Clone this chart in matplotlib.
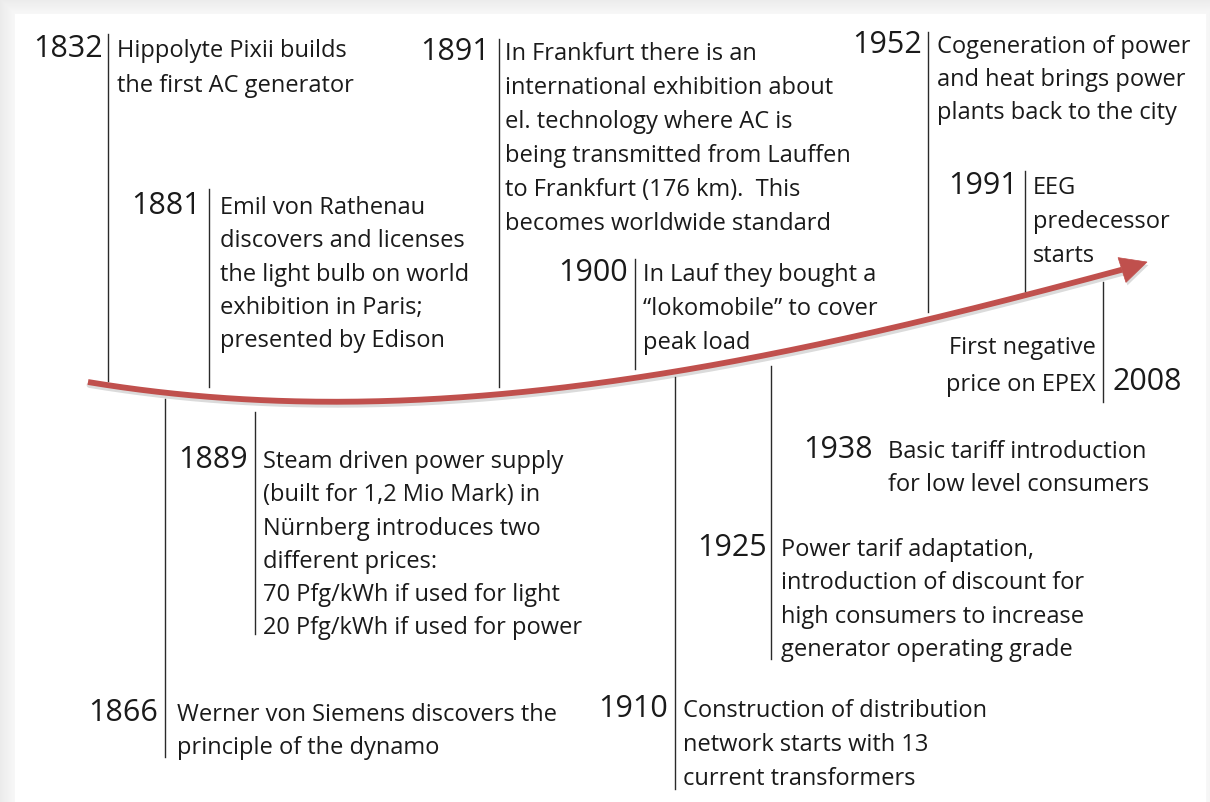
import numpy as np
import matplotlib
matplotlib.use("Agg")
import matplotlib.pyplot as plt
from matplotlib.patches import Polygon

# ---------------- data ----------------
years = ["1832", "1866", "1881", "1889", "1891", "1900",
         "1910", "1925", "1938", "1952", "1991", "2008"]

descriptions = [
    ["Hippolyte Pixii builds", "the first AC generator"],
    ["Werner von Siemens discovers the", "principle of the dynamo"],
    ["Emil von Rathenau", "discovers and licenses", "the light bulb on world",
     "exhibition in Paris;", "presented by Edison"],
    ["Steam driven power supply", "(built for 1,2 Mio Mark) in",
     "Nürnberg introduces two", "different prices:",
     "70 Pfg/kWh if used for light", "20 Pfg/kWh if used for power"],
    ["In Frankfurt there is an", "international exhibition about",
     "el. technology where AC is", "being transmitted from Lauffen",
     "to Frankfurt (176 km).  This", "becomes worldwide standard"],
    ["In Lauf they bought a", "\u201clokomobile\u201d to cover", "peak load"],
    ["Construction of distribution", "network starts with 13",
     "current transformers"],
    ["Power tarif adaptation,", "introduction of discount for",
     "high consumers to increase", "generator operating grade"],
    ["Basic tariff introduction", "for low level consumers"],
    ["Cogeneration of power", "and heat brings power",
     "plants back to the city"],
    ["EEG", "predecessor", "starts"],
    ["First negative", "price on EPEX"],
]

# ---------------- layout (pixel space) ----------------
W, H = 1210, 803
line_x   = [108, 165, 209, 255, 499, 635, 675, 771, None, 928, 1025, 1103]
line_top = [35, 400, 190, 413, 40, 260, 378, 367, None, 33, 172, 283]
line_bot = [382, 758, 388, 635, 388, 370, 790, 660, None, 313, 292, 403]
year_x   = [103, 158, 201, 248, 490, 628, 668, 767, 873, 922, 1018, 1113]
text_x   = [117, 177, 220, 263, 505, 643, 683, 781, 888, 937, 1033, 1096]
base_y   = [57, 721, 214, 468, 60, 281, 717, 556, 458, 53, 194, 354]
year_base = [57, 721, 214, 468, 60, 281, 717, 556, 458, 53, 194, 390]
text_right = [False] * 11 + [True]
line_gap = [34.5, 33.0, 33.3, 33.3, 33.9, 34.0, 34.0, 33.5, 33.5, 33.0, 34.0, 37.0]

arrow_px = [88, 165, 250, 380, 500, 635, 780, 928, 1025, 1122]
arrow_py = [384, 393, 399, 403, 396, 378, 355, 318, 297, 271]
arrow_tip = (1147, 263)

FONT = ["Open Sans", "DejaVu Sans"]
TXT = "#1a1a1a"
RED = "#C0504D"
FS_TEXT = 17.0
FS_YEAR = 22

fig = plt.figure(figsize=(W / 100, H / 100), dpi=100)
ax = fig.add_axes([0, 0, 1, 1])
ax.set_xlim(0, W)
ax.set_ylim(H, 0)
ax.axis("off")

# soft frame / shadow around white card
yy, xx = np.mgrid[0:H, 0:W]
card_l, card_t, card_r = 15, 15, 1205
d = np.maximum.reduce([card_l - xx, card_t - yy, xx - card_r, np.zeros_like(xx)])
shade = np.where(d > 0, 0.975 - 0.05 * np.clip(d / 15, 0, 1), 1.0)
ax.imshow(np.dstack([shade] * 3), extent=(0, W, H, 0), zorder=0, aspect="auto")

# curved arrow
coef = np.polyfit(arrow_px, arrow_py, 3)
cx = np.linspace(arrow_px[0], arrow_px[-1], 300)
cy = np.polyval(coef, cx)
ax.plot(cx + 1.5, cy + 3, color="#b0b0b0", lw=4.2, alpha=0.45,
        solid_capstyle="round", zorder=2)
ax.plot(cx, cy, color=RED, lw=4.2, solid_capstyle="butt", zorder=3)
bx, by = arrow_px[-1], arrow_py[-1]
tx, ty = arrow_tip
vx, vy = tx - bx, ty - by
L = np.hypot(vx, vy)
nx, ny = -vy / L, vx / L
hw = 13
head = Polygon([(tx, ty), (bx + nx * hw, by + ny * hw), (bx - nx * hw, by - ny * hw)],
               closed=True, facecolor=RED, edgecolor=RED, lw=0.5, zorder=3)
shadow_head = Polygon([(tx + 1.5, ty + 3), (bx + nx * hw + 1.5, by + ny * hw + 3),
                       (bx - nx * hw + 1.5, by - ny * hw + 3)],
                      closed=True, facecolor="#b0b0b0", alpha=0.45, lw=0, zorder=2)
ax.add_patch(shadow_head)
ax.add_patch(head)

# events
for i, yr in enumerate(years):
    if line_x[i] is not None:
        ax.plot([line_x[i], line_x[i]], [line_top[i], line_bot[i]],
                color="#2a2a2a", lw=1.0, zorder=4)
    if text_right[i]:
        ax.text(year_x[i], year_base[i], yr, ha="left", va="baseline",
                fontsize=FS_YEAR, family=FONT, color=TXT)
        for j, ln in enumerate(descriptions[i]):
            ax.text(text_x[i], base_y[i] + j * line_gap[i], ln, ha="right",
                    va="baseline", fontsize=FS_TEXT, family=FONT, color=TXT)
    else:
        ax.text(year_x[i], year_base[i], yr, ha="right", va="baseline",
                fontsize=FS_YEAR, family=FONT, color=TXT)
        for j, ln in enumerate(descriptions[i]):
            ax.text(text_x[i], base_y[i] + j * line_gap[i], ln, ha="left",
                    va="baseline", fontsize=FS_TEXT, family=FONT, color=TXT)

fig.savefig("out.png", dpi=100)
